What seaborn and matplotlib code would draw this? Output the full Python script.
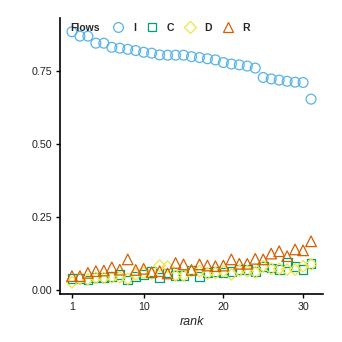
import numpy as np
import pandas as pd
import matplotlib
matplotlib.use("Agg")
import matplotlib.pyplot as plt
from matplotlib.lines import Line2D
import seaborn as sns

rank = list(range(1, 32))
flow_I = [0.883, 0.868, 0.868, 0.844, 0.844, 0.830, 0.827, 0.823, 0.819, 0.813,
          0.810, 0.804, 0.803, 0.803, 0.803, 0.798, 0.795, 0.791, 0.787, 0.778,
          0.773, 0.770, 0.766, 0.759, 0.727, 0.722, 0.718, 0.714, 0.711, 0.710,
          0.653]
flow_C = [0.040, 0.040, 0.036, 0.043, 0.043, 0.049, 0.055, 0.036, 0.049, 0.055,
          0.066, 0.043, 0.060, 0.051, 0.051, 0.070, 0.049, 0.062, 0.066, 0.062,
          0.066, 0.071, 0.071, 0.066, 0.083, 0.077, 0.071, 0.096, 0.083, 0.071,
          0.091]
flow_D = [0.028, 0.040, 0.038, 0.043, 0.043, 0.045, 0.045, 0.040, 0.055, 0.060,
          0.058, 0.085, 0.081, 0.051, 0.051, 0.066, 0.066, 0.058, 0.060, 0.066,
          0.055, 0.068, 0.066, 0.062, 0.083, 0.074, 0.074, 0.071, 0.071, 0.083,
          0.089]
flow_R = [0.049, 0.049, 0.060, 0.066, 0.068, 0.079, 0.071, 0.106, 0.070, 0.074,
          0.062, 0.066, 0.058, 0.094, 0.089, 0.070, 0.089, 0.085, 0.083, 0.085,
          0.106, 0.091, 0.091, 0.108, 0.106, 0.126, 0.134, 0.117, 0.140, 0.137,
          0.168]
flows = ["I", "C", "D", "R"]
colors = {"I": "#56B4E9", "C": "#009E73", "D": "#F0E442", "R": "#D55E00"}
markers = {"I": "o", "C": "s", "D": "D", "R": "^"}

df = pd.concat([
    pd.DataFrame({"rank": rank, "value": v, "Flows": f})
    for f, v in zip(flows, [flow_I, flow_C, flow_D, flow_R])
], ignore_index=True)

sns.set_theme(style="ticks")
plt.rcParams["font.family"] = ["Liberation Sans", "DejaVu Sans"]

fig = plt.figure(figsize=(3.42, 3.42), dpi=100)
ax = fig.add_axes([60/342, 1-294/342, (323-60)/342, (294-18)/342])

sizes = {"I": 50, "C": 40, "D": 34, "R": 58}
for f in flows:
    sub = df[df["Flows"] == f]
    sns.scatterplot(data=sub, x="rank", y="value", ax=ax, marker=markers[f],
                    s=sizes[f], facecolor="none", edgecolor=colors[f],
                    linewidth=0.9, legend=False)

ax.set_xlim(-0.5, 32.5)
ax.set_ylim(-0.012, 0.93)
ax.set_xticks([1, 10, 20, 30])
ax.set_yticks([0.0, 0.25, 0.5, 0.75])
ax.set_yticklabels(["0.00", "0.25", "0.50", "0.75"])
ax.set_xlabel("rank", style="italic", fontsize=9, labelpad=3)
ax.set_ylabel("")
ax.tick_params(axis="both", labelsize=7.7, length=3, width=1, color="black",
               labelcolor="#222222", pad=2.5)
for s in ["top", "right"]:
    ax.spines[s].set_visible(False)
for s in ["left", "bottom"]:
    ax.spines[s].set_linewidth(1.2)
    ax.spines[s].set_color("black")

msz = {"I": 7, "C": 6.3, "D": 5.8, "R": 7.8}
handles = [Line2D([], [], linestyle="none", marker=markers[f], markersize=msz[f],
                  markerfacecolor="none", markeredgecolor=colors[f], markeredgewidth=0.9)
           for f in flows]
leg = fig.legend(handles, flows, loc="center left", bbox_to_anchor=(113/342, 1-28/342),
                 ncol=4, frameon=False, handlelength=1.0, handletextpad=0.9,
                 columnspacing=1.05, borderpad=0, borderaxespad=0,
                 prop={"size": 7.5, "weight": "bold"})
fig.text(70/342, 1-28/342, "Flows", fontsize=7.5, fontweight="bold", va="center", ha="left")

fig.savefig("out.png", dpi=100)
